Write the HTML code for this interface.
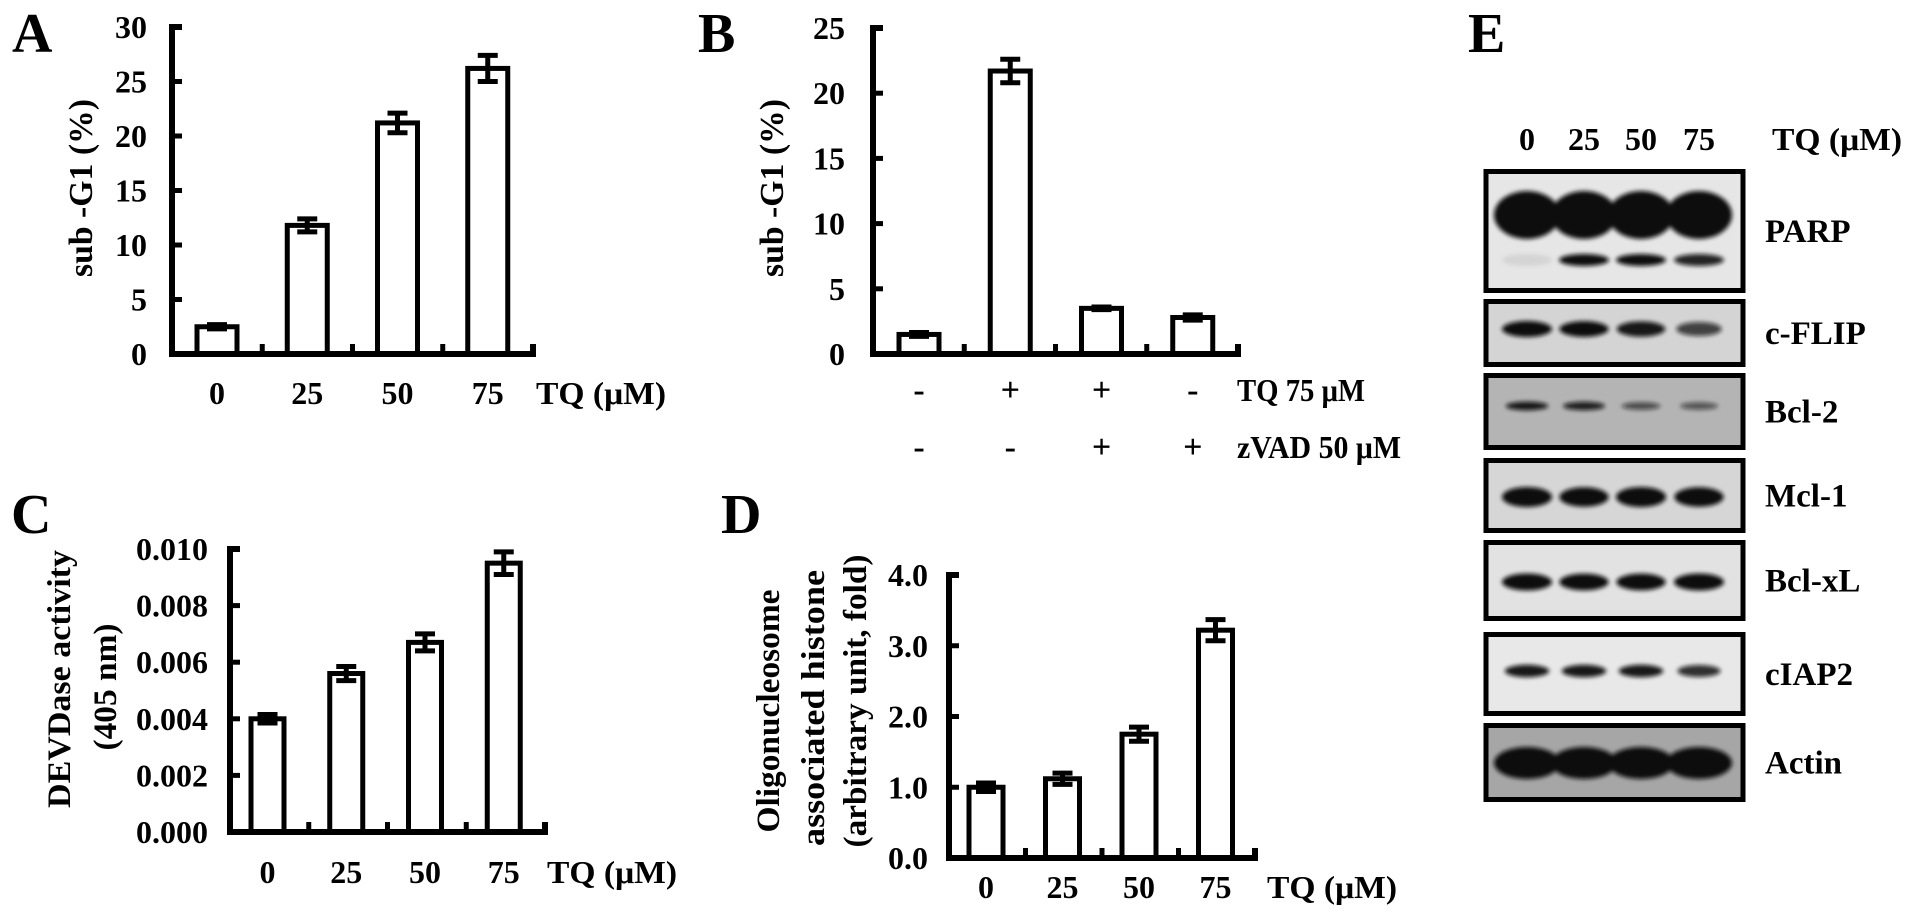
<!DOCTYPE html>
<html><head><meta charset="utf-8"><style>
html,body{margin:0;padding:0;background:#fff;}
svg{display:block;}
text{font-family:"Liberation Serif",serif;font-weight:bold;fill:#000;}
</style></head><body>
<svg id="fig" width="1913" height="919" viewBox="0 0 1913 919" xmlns="http://www.w3.org/2000/svg">
<defs>
<filter id="blur" x="-30%" y="-60%" width="160%" height="220%"><feGaussianBlur stdDeviation="2.2"/></filter>
</defs>
</svg>
<script>
const NS="http://www.w3.org/2000/svg";
const svg=document.getElementById('fig');

// ---------- data ----------
const catsA=["0","25","50","75"];
const valsA=[2.5,11.8,21.2,26.2];
const errA=[0.2,0.6,0.9,1.2];
const ticksA=[0,5,10,15,20,25,30];

const rowTQ_B=["-","+","+","-"];
const rowZ_B=["-","-","+","+"];
const valsB=[1.5,21.7,3.5,2.8];
const errB=[0.15,0.9,0.1,0.2];
const ticksB=[0,5,10,15,20,25];

const catsC=["0","25","50","75"];
const valsC=[0.0040,0.0056,0.0067,0.0095];
const errC=[0.00015,0.00025,0.0003,0.0004];
const ticksC=[0,0.002,0.004,0.006,0.008,0.010];
const tickLabelsC=["0.000","0.002","0.004","0.006","0.008","0.010"];

const catsD=["0","25","50","75"];
const valsD=[1.0,1.12,1.75,3.22];
const errD=[0.06,0.08,0.1,0.15];
const ticksD=[0,1,2,3,4];
const tickLabelsD=["0.0","1.0","2.0","3.0","4.0"];

const lanesE=["0","25","50","75"];
const proteinsE=["PARP","c-FLIP","Bcl-2","Mcl-1","Bcl-xL","cIAP2","Actin"];
const intensityE=[[1,1,1,1],[1,0.95,0.9,0.7],[0.9,0.85,0.6,0.55],[1,0.95,1,0.95],[1,0.95,0.95,1],[0.9,0.9,0.9,0.8],[1,1,1,1]];
const cleavedPARP=[0.08,1,1,0.9];

// ---------- helpers ----------
function el(tag,attrs,parent){const e=document.createElementNS(NS,tag);for(const k in attrs)e.setAttribute(k,attrs[k]);(parent||svg).appendChild(e);return e;}
function txt(s,x,y,size,anchor,parent,extra){const t=el('text',Object.assign({x:x,y:y,'font-size':size,'text-anchor':anchor||'start'},extra||{}),parent);t.textContent=s;return t;}

function barChart(cfg){
  const g=el('g',{});
  
  
  const n=cfg.vals.length, cw=(cfg.x1-cfg.x0)/n;
  const ys=v=>cfg.y0-(v/cfg.max)*(cfg.y0-cfg.yTop);
  const xs=i=>cfg.x0+i*cw;
  cfg.vals.forEach((v,i)=>{
    const b=el('rect',{x:xs(i)+cfg.off,y:ys(v),width:cfg.bw,height:cfg.y0-ys(v),fill:'#fff',stroke:'#000','stroke-width':5},g);
    
    
    const cx=xs(i)+cfg.off+cfg.bw/2, e=cfg.err[i];
    const eb=el('path',{d:`M${cx},${ys(v+e)}V${ys(v-e)}M${cx-10},${ys(v+e)}H${cx+10}M${cx-10},${ys(v-e)}H${cx+10}`,stroke:'#000','stroke-width':5,fill:'none'},g);
    
    
  });
  const ax=el('path',{d:`M${cfg.x0+10},${cfg.yTop}H${cfg.x0}V${cfg.y0}H${cfg.x1}V${cfg.y0-10}`,stroke:'#000','stroke-width':6,fill:'none'},g);
  
  
  cfg.ticks.forEach((t,i)=>{
    const y=ys(t);
    el('path',{d:`M${cfg.x0},${y}H${cfg.x0+10}`,stroke:'#000','stroke-width':5},g);
    const lb=txt(cfg.tickLabels?cfg.tickLabels[i]:String(t),cfg.labR,y+11,32,'end',g);
    
    
  });
  for(let i=1;i<n;i++){el('path',{d:`M${xs(i)},${cfg.y0}V${cfg.y0-10}`,stroke:'#000','stroke-width':5},g);}
  if(cfg.cats){cfg.cats.forEach((c,i)=>{
    const t=txt(c,xs(i)+cfg.off+cfg.bw/2,cfg.catY,32,'middle',g);
    
    
  });}
  return {g,xs,cw};
}

// ---------- Panel A ----------
const A=barChart({name:'panel-a-chart',vals:valsA,err:errA,max:30,ticks:ticksA,x0:172,x1:533,y0:354,yTop:27,off:25,bw:40,labR:147,cats:catsA,catY:404});
let t;
t=txt('A',12,52,56,'start');
t=txt('TQ (μM)',536,404,32,'start',null,{textLength:130,lengthAdjust:'spacingAndGlyphs'});
t=txt('sub -G1 (%)',0,0,34,'middle',null,{transform:'translate(92,188) rotate(-90)',textLength:178,lengthAdjust:'spacingAndGlyphs'});

// ---------- Panel B ----------
const B=barChart({name:'panel-b-chart',vals:valsB,err:errB,max:25,ticks:ticksB,x0:873,x1:1238,y0:354,yTop:28,off:26,bw:40,labR:845});
t=txt('B',698,52,56,'start');
t=txt('sub -G1 (%)',0,0,34,'middle',null,{transform:'translate(783,188) rotate(-90)',textLength:178,lengthAdjust:'spacingAndGlyphs'});
rowTQ_B.forEach((s,i)=>{const x=B.xs(i)+26+20;const e=txt(s,x,401,34,'middle');});
rowZ_B.forEach((s,i)=>{const x=B.xs(i)+26+20;const e=txt(s,x,458,34,'middle');});
t=txt('TQ 75 μM',1237,401,32,'start',null,{textLength:128,lengthAdjust:'spacingAndGlyphs'});
t=txt('zVAD 50 μM',1237,458,32,'start',null,{textLength:164,lengthAdjust:'spacingAndGlyphs'});

// ---------- Panel C ----------
barChart({name:'panel-c-chart',vals:valsC,err:errC,max:0.010,ticks:ticksC,tickLabels:tickLabelsC,x0:230,x1:545,y0:832,yTop:549,off:21,bw:33,labR:208,cats:catsC,catY:883});
t=txt('C',11,533,56,'start');
t=txt('TQ (μM)',547,883,32,'start',null,{textLength:130,lengthAdjust:'spacingAndGlyphs'});
t=txt('DEVDase activity',0,0,33,'middle',null,{transform:'translate(70,679) rotate(-90)',textLength:258,lengthAdjust:'spacingAndGlyphs'});
t=txt('(405 nm)',0,0,33,'middle',null,{transform:'translate(116,687) rotate(-90)',textLength:127,lengthAdjust:'spacingAndGlyphs'});

// ---------- Panel D ----------
barChart({name:'panel-d-chart',vals:valsD,err:errD,max:4,ticks:ticksD,tickLabels:tickLabelsD,x0:949,x1:1255,y0:858,yTop:575,off:20,bw:34,labR:928,cats:catsD,catY:898});
t=txt('D',721,533,56,'start');
t=txt('TQ (μM)',1267,898,32,'start',null,{textLength:130,lengthAdjust:'spacingAndGlyphs'});
t=txt('Oligonucleosome',0,0,33,'middle',null,{transform:'translate(779,711) rotate(-90)',textLength:243,lengthAdjust:'spacingAndGlyphs'});
t=txt('associated histone',0,0,33,'middle',null,{transform:'translate(824,708) rotate(-90)',textLength:276,lengthAdjust:'spacingAndGlyphs'});
t=txt('(arbitrary unit, fold)',0,0,33,'middle',null,{transform:'translate(866,701) rotate(-90)',textLength:293,lengthAdjust:'spacingAndGlyphs'});

// ---------- Panel E (western blot) ----------
t=txt('E',1468,52,56,'start');
const laneX=[1527,1584,1641,1699];
lanesE.forEach((l,i)=>{const e=txt(l,laneX[i],150,32,'middle');});
t=txt('TQ (μM)',1772,150,32,'start',null,{textLength:130,lengthAdjust:'spacingAndGlyphs'});
const boxTop=[169,299,373,458,540,632,723];
const boxBot=[293,367,450,533,621,716,802];
const boxBg=['#e6e6e6','#d4d4d4','#b4b4b4','#d6d6d6','#e2e2e2','#e8e8e8','#a6a6a6'];
const bandY=[215,329,406,497,582,671,763];
const bandH=[48,16,9,20,17,13,32];
const bandW=[66,50,44,50,50,46,66];
proteinsE.forEach((p,r)=>{
  const g=el('g',{});
  
  
  el('rect',{x:1486,y:boxTop[r]+2.5,width:257,height:boxBot[r]-boxTop[r]-5,fill:boxBg[r],stroke:'#000','stroke-width':5},g);
  const bg=el('g',{filter:'url(#blur)'},g);
  laneX.forEach((x,i)=>{
    const a=intensityE[r][i];
    el('ellipse',{cx:x,cy:bandY[r],rx:bandW[r]/2*(0.7+0.3*a),ry:bandH[r]/2*(0.6+0.4*a),fill:'#111','fill-opacity':Math.min(1,a+0.05)},bg);
    if(r===0){el('ellipse',{cx:x,cy:260,rx:25,ry:6,fill:'#111','fill-opacity':cleavedPARP[i]},bg);}
  });
  const lb=txt(p,1765,(boxTop[r]+boxBot[r])/2+11,33,'start',g);
  
  
});
</script>
</body></html>
